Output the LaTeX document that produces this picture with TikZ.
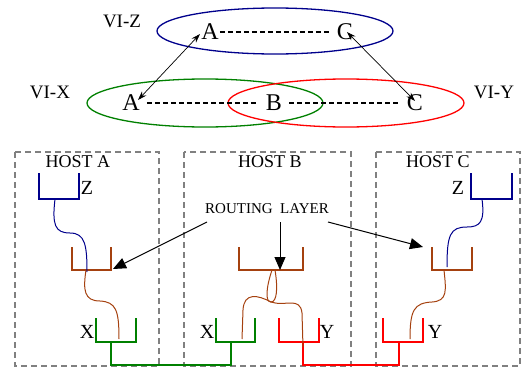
\documentclass[tikz,border=0pt]{standalone}
\usepackage{fontspec}
\setmainfont{Liberation Serif}
\usetikzlibrary{arrows.meta}
\definecolor{navyb}{RGB}{0,0,140}
\definecolor{grn}{RGB}{0,128,0}
\definecolor{rd}{RGB}{255,0,0}
\definecolor{brn}{RGB}{165,65,15}
\definecolor{boxgray}{RGB}{128,128,128}
\begin{document}
\begin{tikzpicture}[x=1pt,y=-1pt,
 ell/.style={line width=1.3pt},
 big/.style={font=\fontsize{24}{24}\selectfont, inner sep=0pt},
 vil/.style={font=\fontsize{19}{19}\selectfont, inner sep=0pt},
 hostlbl/.style={font=\fontsize{18}{18}\selectfont, inner sep=0pt},
 portlbl/.style={font=\fontsize{20}{20}\selectfont, inner sep=0pt},
 routelbl/.style={font=\fontsize{15}{15}\selectfont, inner sep=0pt},
 hostbox/.style={draw=boxgray, line width=1.3pt, dash pattern=on 6pt off 4pt},
 dashlink/.style={line width=1.1pt, dash pattern=on 5pt off 3pt},
 vlink/.style={line width=0.7pt, {Stealth[length=9pt,width=6pt]}-{Stealth[length=9pt,width=6pt]}},
 rarrow/.style={line width=1pt, -{Triangle[length=13pt,width=11pt]}},
 bucket/.style={line width=1.5pt},
 wire/.style={line width=1pt}]
\useasboundingbox (0,0) rectangle (531,367);

% virtual interfaces
\draw[ell,navyb] (275,31) ellipse [x radius=118pt, y radius=23pt];
\draw[ell,grn] (205,103) ellipse [x radius=118pt, y radius=24pt];
\draw[ell,rd] (346,103) ellipse [x radius=118pt, y radius=24pt];

\node[vil] (viz) at (122,21) {VI-Z};
\node[vil] (vix) at (50,92) {VI-X};
\node[vil] (viy) at (494,92) {VI-Y};

\node[big] (zA) at (210,32) {A};
\node[big] (zC) at (345,32) {C};
\node[big] (xA) at (131,103) {A};
\node[big] (xB) at (274,103) {B};
\node[big] (yC) at (415,103) {C};

\draw[dashlink, shorten <=1pt, shorten >=5pt] (zA) -- (zC);
\draw[dashlink, shorten <=7pt, shorten >=7pt] (xA) -- (xB);
\draw[dashlink, shorten <=7pt, shorten >=7pt] (xB) -- (yC);

\coordinate (zAt) at (200,34);
\coordinate (xAt) at (138,100);
\coordinate (zCt) at (347,32);
\coordinate (yCt) at (415,101);
\draw[vlink] (zAt) -- (xAt);
\draw[vlink] (zCt) -- (yCt);

% hosts
\draw[hostbox] (15,152) rectangle (159,366);
\draw[hostbox] (184,152) rectangle (351,366);
\draw[hostbox] (376,152) rectangle (520,366);
\node[hostlbl] (ha) at (78,162) {HOST A};
\node[hostlbl] (hb) at (270,162) {HOST B};
\node[hostlbl] (hc) at (438,162) {HOST C};

% buckets host A
\draw[bucket,navyb] (39,173) |- (79,199) -- (79,173);
\draw[bucket,brn] (72,247) |- (111,270) -- (111,247);
\draw[bucket,grn] (96,318) |- (136,342) -- (136,318);
% host B
\draw[bucket,brn] (239,247) |- (303,270) -- (303,247);
\draw[bucket,grn] (216,318) |- (255,342) -- (255,318);
\draw[bucket,rd] (279,318) |- (319,342) -- (319,318);
% host C
\draw[bucket,navyb] (471,173) |- (512,199) -- (512,173);
\draw[bucket,brn] (432,247) |- (472,270) -- (472,247);
\draw[bucket,rd] (383,318) |- (423,342) -- (423,318);

% bottom links
\draw[bucket,grn] (111,342) -- (111,365) -- (231,365) -- (231,342);
\draw[bucket,rd] (303,342) -- (303,365) -- (399,365) -- (399,342);

% port labels
\node[portlbl] (pZa) at (87,188) {Z};
\node[portlbl] (pXa) at (87,332) {X};
\node[portlbl] (pXb) at (207,332) {X};
\node[portlbl] (pYb) at (327,332) {Y};
\node[portlbl] (pYc) at (435,332) {Y};
\node[portlbl] (pZc) at (458,188) {Z};

% wires host A
\draw[wire,navyb] (55,199) .. controls (52,225) and (55,233) .. (70,233) .. controls (85,233) and (87,245) .. (87,272);
\draw[wire,brn] (86,270) .. controls (83,290) and (84,301) .. (100,301) .. controls (116,302) and (119,310) .. (119,339);
% wires host B
\draw[wire,brn] (272,270) .. controls (266,288) and (265,302) .. (271,302) .. controls (277,302) and (278,288) .. (275,270);
\draw[wire,brn] (271,302) .. controls (258,295) and (244,292) .. (243,310) -- (242,339);
\draw[wire,brn] (271,302) .. controls (285,307) and (300,296) .. (302,313) -- (303,347);
% wires host C
\draw[wire,navyb] (482,199) .. controls (485,222) and (480,227) .. (467,227) .. controls (450,227) and (447,235) .. (447,267);
\draw[wire,brn] (444,270) .. controls (446,290) and (448,301) .. (432,302) .. controls (414,303) and (410,310) .. (410,339);

% routing layer
\node[routelbl] (rl) at (267,209) {ROUTING\ \ LAYER};
\coordinate (rA) at (113,269);
\coordinate (rB) at (280,270);
\coordinate (rC) at (423,247);
\draw[rarrow] (207,222) -- (rA);
\draw[rarrow] (280,222) -- (rB);
\draw[rarrow] (328,222) -- (rC);
\end{tikzpicture}
\end{document}
